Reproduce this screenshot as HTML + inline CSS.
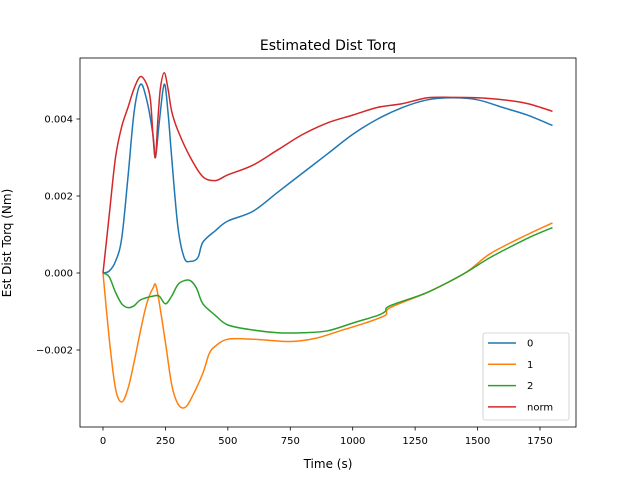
<!DOCTYPE html>
<html><head><meta charset="utf-8"><style>
body{margin:0;background:#fff;}
svg text{font-family:"DejaVu Sans","Liberation Sans",sans-serif;}
</style></head><body>
<svg id="chart" width="640" height="480" xmlns="http://www.w3.org/2000/svg">
<rect width="640" height="480" fill="#fff"/>
<text x="328" y="50" text-anchor="middle" font-size="14">Estimated Dist Torq</text>
<text x="328" y="468" text-anchor="middle" font-size="12">Time (s)</text>
<text transform="translate(11,243) rotate(-90)" text-anchor="middle" font-size="12">Est Dist Torq (Nm)</text>
<g id="ticks"></g>
<g id="series"></g>
<rect x="80" y="58" width="496" height="369" fill="none" stroke="#000" stroke-width="0.8"/>
<g id="legend"></g>
</svg>
<script>
const xTicks=[0,250,500,750,1000,1250,1500,1750];
const yTicks=[-0.002,0,0.002,0.004];
const yTickLabels=["−0.002","0.000","0.002","0.004"];
const seriesNames=["0","1","2","norm"];
const colors=["#1f77b4","#ff7f0e","#2ca02c","#d62728"];
const t0=[0,25,50,75,100,125,150,175,200,210,225,245,260,275,300,325,350,380,400,450,500,600,700,800,900,1000,1100,1200,1300,1400,1500,1600,1700,1800];
const v0=[0,0.00005,0.0003,0.0009,0.0025,0.0042,0.0049,0.0045,0.0036,0.0030,0.0039,0.0049,0.0042,0.003,0.0012,0.0004,0.0003,0.0004,0.0008,0.0011,0.00135,0.0016,0.0021,0.0026,0.0031,0.0036,0.0040,0.0043,0.0045,0.00455,0.0045,0.0043,0.0041,0.00383];
const t1=[0,25,50,75,100,125,150,175,200,215,250,275,300,325,350,400,425,450,500,600,750,850,950,1050,1130,1150,1300,1450,1550,1700,1800];
const v1=[0,-0.0017,-0.003,-0.00335,-0.003,-0.0023,-0.0015,-0.0008,-0.0004,-0.0004,-0.0018,-0.0029,-0.0034,-0.0035,-0.0033,-0.0026,-0.0021,-0.0019,-0.00172,-0.00172,-0.00178,-0.0017,-0.0015,-0.0013,-0.0011,-0.0009,-0.0005,0.0,0.0005,0.0010,0.0013];
const t2=[0,25,50,75,100,125,150,200,225,250,275,300,325,350,375,400,450,500,600,700,800,900,1000,1100,1130,1150,1300,1450,1550,1700,1800];
const v2=[0,-0.0001,-0.0005,-0.0008,-0.0009,-0.00085,-0.0007,-0.0006,-0.0006,-0.0008,-0.0006,-0.0003,-0.0002,-0.0002,-0.0004,-0.0008,-0.0011,-0.00135,-0.00148,-0.00155,-0.00155,-0.0015,-0.0013,-0.0011,-0.0010,-0.00085,-0.0005,0.0,0.0004,0.0009,0.00118];
const t3=[0,25,50,75,100,125,150,175,190,200,210,220,230,245,260,275,300,350,400,450,500,600,700,800,900,1000,1100,1200,1300,1400,1500,1600,1700,1800];
const v3=[0,0.0015,0.003,0.0038,0.0043,0.0048,0.0051,0.0049,0.0045,0.0036,0.0030,0.0040,0.0048,0.0052,0.0048,0.0042,0.0037,0.0030,0.0025,0.0024,0.00255,0.0028,0.0032,0.0036,0.0039,0.0041,0.0043,0.0044,0.00455,0.00456,0.00455,0.0045,0.0044,0.0042];
const xs=[t0,t1,t2,t3], ys=[v0,v1,v2,v3];
const NS="http://www.w3.org/2000/svg";
const X=v=>103+v*0.2497;
const Y=v=>273-v*38500;
const tk=document.getElementById('ticks');
function el(tag,attrs,parent){const e=document.createElementNS(NS,tag);for(const k in attrs)e.setAttribute(k,attrs[k]);parent.appendChild(e);return e;}
xTicks.forEach(v=>{
 const l=el('line',{x1:X(v),x2:X(v),y1:427,y2:430.5,stroke:'#000','stroke-width':0.8},tk);
 
 
 const t=el('text',{x:X(v),y:444,'text-anchor':'middle','font-size':10},tk);t.textContent=v;
 
 
});
yTicks.forEach((v,i)=>{
 const l=el('line',{x1:76.5,x2:80,y1:Y(v),y2:Y(v),stroke:'#000','stroke-width':0.8},tk);
 
 
 const t=el('text',{x:73,y:Y(v)+3.5,'text-anchor':'end','font-size':10},tk);t.textContent=yTickLabels[i];
 
 
});
function smoothPath(px,py){
 let d='M'+px[0].toFixed(1)+','+py[0].toFixed(1);
 for(let i=0;i<px.length-1;i++){
  const i0=Math.max(0,i-1),i3=Math.min(px.length-1,i+2);
  const c1x=px[i]+(px[i+1]-px[i0])/6,c1y=py[i]+(py[i+1]-py[i0])/6;
  const c2x=px[i+1]-(px[i3]-px[i])/6,c2y=py[i+1]-(py[i3]-py[i])/6;
  d+=' C'+c1x.toFixed(1)+','+c1y.toFixed(1)+' '+c2x.toFixed(1)+','+c2y.toFixed(1)+' '+px[i+1].toFixed(1)+','+py[i+1].toFixed(1);
 }
 return d;
}
const sg=document.getElementById('series');
xs.forEach((tx,i)=>{
 const d=smoothPath(tx.map(X),ys[i].map(Y));
 const p=el('path',{d:d,fill:'none',stroke:colors[i],'stroke-width':1.5,'stroke-linejoin':'round'},sg);
 
 
});
const lg=document.getElementById('legend');
el('rect',{x:483,y:333,width:86,height:87,rx:2,fill:'#fff','fill-opacity':0.8,stroke:'#ccc','stroke-width':0.8},lg);
seriesNames.forEach((n,i)=>{
 const y=343+i*21.3;
 const l=el('line',{x1:488,x2:516,y1:y,y2:y,stroke:colors[i],'stroke-width':1.5},lg);
 
 
 const t=el('text',{x:527,y:y+3.5,'font-size':10},lg);t.textContent=n;
 
 
});
</script>
</body></html>
